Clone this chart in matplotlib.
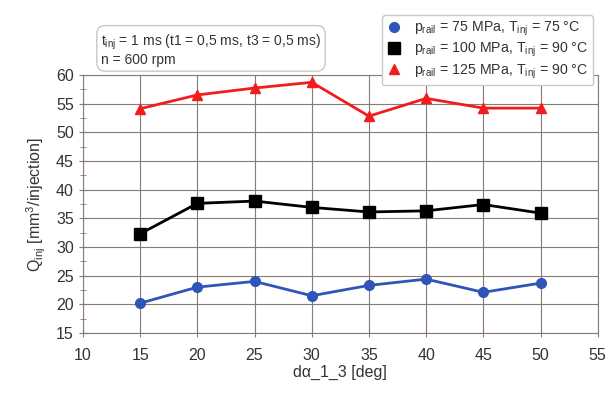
import matplotlib
matplotlib.use("Agg")
import matplotlib.pyplot as plt
from matplotlib.ticker import MultipleLocator

plt.rcParams['font.family'] = ['Liberation Sans', 'DejaVu Sans']
plt.rcParams['mathtext.fontset'] = 'custom'
plt.rcParams['mathtext.rm'] = 'Liberation Sans'
plt.rcParams['mathtext.it'] = 'Liberation Sans'

# data
angle = [15, 20, 25, 30, 35, 40, 45, 50]
q_75 = [20.2, 23.0, 24.0, 21.5, 23.3, 24.4, 22.1, 23.7]
q_100 = [32.3, 37.6, 38.0, 36.9, 36.1, 36.3, 37.4, 35.9]
q_125 = [54.1, 56.5, 57.7, 58.7, 52.8, 55.9, 54.2, 54.2]

labels = [r'p$_{\rm rail}$ = 75 MPa, T$_{\rm inj}$ = 75 °C',
          r'p$_{\rm rail}$ = 100 MPa, T$_{\rm inj}$ = 90 °C',
          r'p$_{\rm rail}$ = 125 MPa, T$_{\rm inj}$ = 90 °C']

fig = plt.figure(figsize=(6.07, 3.96), dpi=100)
ax = fig.add_axes([0.1367, 0.159, 0.848, 0.652])

ax.plot(angle, q_75, color='#2f55b8', lw=2, marker='o', ms=7, label=labels[0])
ax.plot(angle, q_100, color='black', lw=2, marker='s', ms=8, label=labels[1])
ax.plot(angle, q_125, color='#f21c1c', lw=2, marker='^', ms=7, label=labels[2])

ax.set_xlim(10, 55)
ax.set_ylim(15, 60)
ax.xaxis.set_major_locator(MultipleLocator(5))
ax.yaxis.set_major_locator(MultipleLocator(5))
ax.yaxis.set_minor_locator(MultipleLocator(2.5))
ax.grid(True, which='major', color='#8a7a74', lw=0.8)
for s in ax.spines.values():
    s.set_color('#8a7a74')
ax.tick_params(colors='#8a7a74', labelcolor='#333333', labelsize=11.5, direction='inout', length=6)
ax.tick_params(which='minor', direction='inout', length=4, colors='#8a7a74')
ax.tick_params(axis='x', pad=8)

ax.set_xlabel('d\u03b1_1_3 [deg]', fontsize=11.5, color='#333333', labelpad=1)
ax.set_ylabel(r'Q$_{\rm inj}$ [mm$^3$/injection]', fontsize=11.5, color='#333333', labelpad=6)

handles, labs = ax.get_legend_handles_labels()
leg = fig.legend(handles, labs, loc='upper right', bbox_to_anchor=(593 / 607, 1 - 15 / 396),
                 fontsize=10.2, frameon=True, fancybox=True, framealpha=1,
                 handlelength=1.0, handletextpad=0.9, borderpad=0.35, borderaxespad=0,
                 labelspacing=0.2, labelcolor='#333333')
leg.get_frame().set_edgecolor('#c8c8c8')
leg.get_frame().set_linewidth(1.0)
for h in leg.legend_handles:
    h.set_linestyle('none')

fig.text(101 / 607, 1 - 67 / 396, 't$_{\\rm inj}$ = 1 ms (t1 = 0,5 ms, t3 = 0,5 ms)\nn = 600 rpm',
         fontsize=10, color='#333333', va='bottom', linespacing=1.05,
         bbox=dict(boxstyle='round,pad=0.3,rounding_size=0.6', fc='white', ec='#c8c8c8', lw=1.0))

fig.savefig('out.png', dpi=100)
